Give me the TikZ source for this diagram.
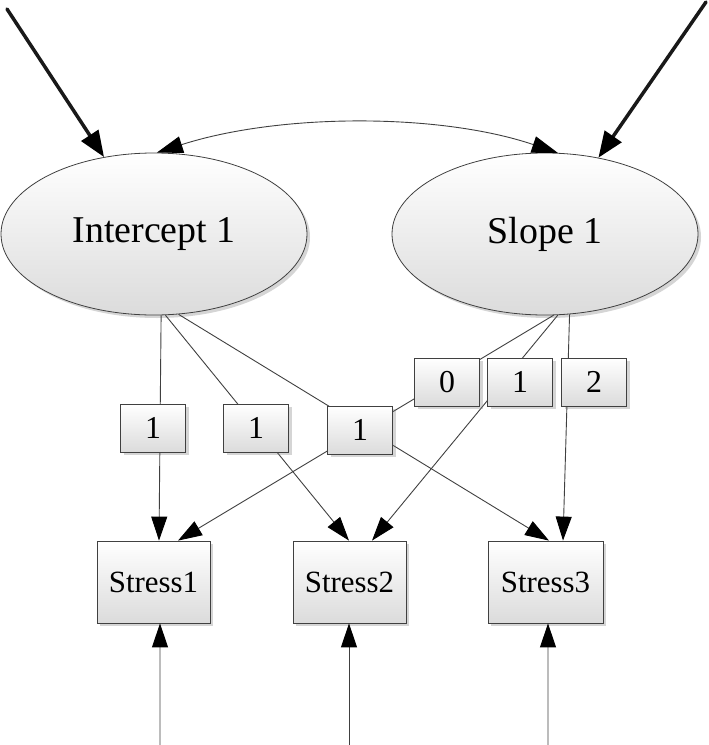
\documentclass[tikz,border=0pt]{standalone}
\usepackage{fontspec}
\setmainfont{Liberation Serif}
\usetikzlibrary{shapes.geometric,arrows.meta,shadows}
\begin{document}
\begin{tikzpicture}[x=1bp,y=-1bp,
  shade box/.style={draw=black!75, line width=0.8bp, top color=white, bottom color=black!14,
    drop shadow={shadow xshift=3bp, shadow yshift=-3bp, opacity=0.3, fill=black!55}},
  latent/.style={shade box, ellipse, minimum width=306bp, minimum height=162bp, inner sep=0pt,
    font=\fontsize{38}{40}\selectfont},
  obsbox/.style={shade box, rectangle, minimum width=113bp, minimum height=82bp, inner sep=0pt,
    font=\fontsize{31}{33}\selectfont},
  labbox/.style={shade box, rectangle, minimum width=65bp, minimum height=48bp, inner sep=0pt,
    font=\fontsize{32}{34}\selectfont},
  path link/.style={draw=black!75, line width=0.9bp},
  path arrow/.style={path link, -{Triangle[length=24bp,width=16bp,color=black]}},
  big arrow/.style={draw=black!90, line width=3.5bp, line cap=round, -{Triangle[length=26bp,width=20bp,color=black]}},
  cov arrow/.style={draw=black!75, line width=0.9bp, {Triangle[length=26bp,width=17bp,color=black]}-{Triangle[length=26bp,width=17bp,color=black]}}
]
\useasboundingbox (0,0) rectangle (709,745);

% latent variables and observed variables
\node[latent] (i) at (154,234) {Intercept 1};
\node[latent] (s) at (545,234) {Slope 1};
\node[obsbox] (o1) at (153.5,582) {Stress1};
\node[obsbox] (o2) at (349.5,582) {Stress2};
\node[obsbox, minimum width=115bp] (o3) at (545.5,582) {Stress3};

% free ends
\coordinate (t1) at (7,9);
\coordinate (t2) at (706,2);
\coordinate (b1) at (160,745);
\coordinate (b2) at (349,745);
\coordinate (b3) at (548,745);

% disturbance arrows on latent variables
\draw[big arrow] (t1) -- (i.123.5);
\draw[big arrow] (t2) -- (s.55.5);

% covariance
\draw[cov arrow] (i.88) .. controls (280,113) and (440,113) .. (s.81);

% loadings (drawn under the label boxes)
\draw[path arrow] (i.-85) -- ([xshift=5.5bp]o1.north);
\draw[path arrow] (i.-82) -- ([xshift=-0.5bp]o2.north);
\draw[path arrow] (i.-73) -- ([xshift=3.5bp]o3.north);
\draw[path arrow] (s.-84.4) -- ([xshift=24.5bp]o1.north);
\draw[path arrow] (s.-81.7) -- ([xshift=22.5bp]o2.north);
\draw[path arrow] (s.-73.7) -- ([xshift=17.5bp]o3.north);

% residual arrows on observed variables
\draw[path arrow] (b1) -- ([xshift=6.5bp]o1.south);
\draw[path arrow] (b2) -- ([xshift=-0.5bp]o2.south);
\draw[path arrow] (b3) -- ([xshift=2.5bp]o3.south);

% loading labels
\node[labbox] (l1) at (153,428) {1};
\node[labbox] (l2) at (256,428) {1};
\node[labbox] (l3) at (360,430) {1};
\node[labbox] (l0) at (447,382) {0};
\node[labbox] (l4) at (520,382) {1};
\node[labbox] (l5) at (594,382) {2};
\end{tikzpicture}
\end{document}
